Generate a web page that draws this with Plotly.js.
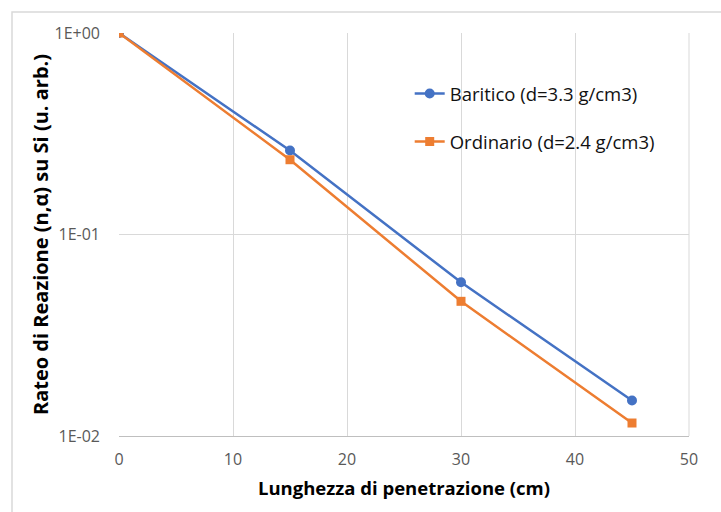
<!DOCTYPE html>
<html>
<head>
<meta charset="utf-8">
<script src="https://cdn.plot.ly/plotly-3.0.1.min.js"></script>
<style>html,body{margin:0;padding:0;background:#fff;}#chart{width:721px;height:512px;}</style>
</head>
<body>
<div id="chart"></div>
<script>
const depth = [0, 15, 30, 45];
const baritico = [1.0, 0.261, 0.0579, 0.0150];
const ordinario = [1.0, 0.235, 0.0466, 0.0116];
const seriesNames = ["Baritico (d=3.3 g/cm3)", "Ordinario (d=2.4 g/cm3)"];
const xTickVals = [0, 10, 20, 30, 40, 50];
const yTickVals = [0.01, 0.1, 1];
const yTickText = ["1E-02", "1E-01", "1E+00"];

const FONT = "'Open Sans', sans-serif";

const traces = [
  {x: depth, y: baritico, name: seriesNames[0], type: "scatter", mode: "lines+markers",
   legendgroup: "a",
   line: {color: "#4472C4", width: 2.5},
   marker: {symbol: "circle", size: 10, color: "#4472C4"}},
  {x: depth, y: ordinario, name: seriesNames[1], type: "scatter", mode: "lines+markers",
   legendgroup: "b",
   line: {color: "#ED7D31", width: 2.5},
   marker: {symbol: "square", size: 9, color: "#ED7D31"}}
];

const layout = {
  width: 721, height: 512,
  margin: {l: 119, r: 32, t: 33, b: 76},
  paper_bgcolor: "#fff", plot_bgcolor: "#fff",
  font: {family: FONT, color: "#595959", size: 16},
  showlegend: true,
  legend: {
    x: 0.51, y: 0.896, xanchor: "left", yanchor: "top",
    bgcolor: "rgba(0,0,0,0)", traceorder: "grouped", tracegroupgap: 21,
    font: {family: FONT, size: 18.5, color: "#111"}
  },
  xaxis: {
    range: [0, 50], tickvals: xTickVals, ticks: "",
    showgrid: true, gridcolor: "#d9d9d9", gridwidth: 1,
    zeroline: false, showline: true, linecolor: "#bfbfbf", linewidth: 1,
    ticklabelstandoff: 9,
    tickfont: {family: FONT, size: 16, color: "#595959"},
    title: {text: "Lunghezza di penetrazione (cm)", standoff: 12,
            font: {family: FONT, size: 18.5, color: "#000", weight: "bold"}}
  },
  yaxis: {
    type: "log", range: [-2, 0], tickvals: yTickVals, ticktext: yTickText, ticks: "",
    showgrid: true, gridcolor: "#d9d9d9", gridwidth: 1,
    zeroline: false, showline: false,
    ticklabelstandoff: 18,
    tickfont: {family: FONT, size: 16, color: "#595959"},
    title: {text: "Rateo di Reazione (n,α) su Si (u. arb.)", standoff: 0,
            font: {family: FONT, size: 20, color: "#000", weight: "bold"}}
  },
  shapes: [
    {type: "rect", xref: "paper", yref: "paper", x0: -0.1877, x1: 1.2, y0: -0.3, y1: 1.052,
     line: {color: "#d9d9d9", width: 1.5}, fillcolor: "rgba(0,0,0,0)", layer: "below"},
    {type: "line", xref: "paper", yref: "paper", x0: 1, x1: 1, y0: 0, y1: 1,
     line: {color: "#d9d9d9", width: 1}}
  ]
};

Plotly.newPlot("chart", traces, layout, {displayModeBar: false, staticPlot: true});
</script>
</body>
</html>
